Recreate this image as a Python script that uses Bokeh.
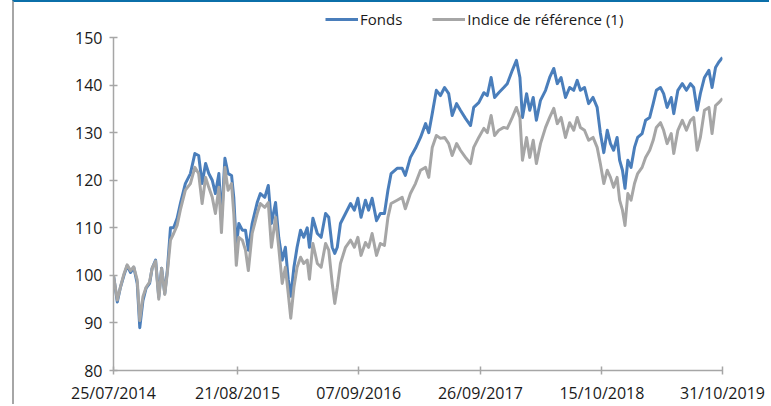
import pandas as pd
from bokeh.plotting import figure
from bokeh.models import FixedTicker, Legend, LegendItem, DatetimeTickFormatter, Range1d
from bokeh.embed import file_html
from bokeh.resources import INLINE

start_date = "2014-07-25"
end_date = "2019-10-31"

# days elapsed since 25/07/2014
days = [0, 12, 22, 33, 43, 54, 64, 75, 83, 93, 103, 114, 122, 133, 143, 152, 162, 170, 180, 190,
        201, 212, 227, 243, 257, 269, 280, 291, 301, 312, 322, 333, 341, 352, 362, 373, 380, 388,
        396, 407, 417, 426, 438, 454, 464, 478, 489, 499, 512, 522, 533, 543, 552, 560, 570, 580,
        591, 601, 612, 619, 630,
        644, 656, 670, 680, 691, 699, 707, 717, 733, 749, 761, 772, 782, 796, 806, 817, 831, 843,
        856, 867, 877, 896, 912, 922, 938, 954, 970, 986, 996, 1007, 1020, 1033, 1046, 1059, 1070,
        1084, 1096, 1112, 1128, 1138, 1154, 1170, 1181, 1193, 1204, 1217, 1233,
        1244, 1260, 1273, 1284, 1292, 1305, 1315, 1326, 1336, 1349, 1365, 1378, 1391, 1402, 1414,
        1428, 1441, 1454, 1465, 1475, 1488, 1501, 1515, 1528, 1538, 1549, 1560, 1570, 1580, 1591,
        1599, 1608, 1616, 1625, 1635, 1646, 1656, 1670, 1681, 1694, 1705, 1715, 1728, 1738, 1749,
        1762, 1770, 1783, 1797, 1810, 1823, 1833, 1844, 1854, 1867, 1881, 1891, 1902, 1912, 1924]

fonds = [100, 94.4, 97.5, 100, 102, 100.6, 101.7, 98.3, 89, 94.7, 97.3, 98.3, 101.5, 103.2, 95.5,
         101.5, 96.2, 101, 110, 110, 112, 115.3, 119.3, 121.4, 125.6, 125.2, 119.3, 123.5, 121.4,
         120, 117.2, 121.4, 111.5, 124.6, 121.4, 121, 116.4, 105.9, 110.9, 109.5, 109.5, 105.3,
         110.9, 115.3, 117.2, 116.4, 118.9, 110.9, 115.3, 108, 103.2, 105.9, 99.2, 95.6, 101.7,
         105.9, 109.5, 108, 110, 105.9, 112,
         108.8, 108, 113, 112.2, 105.9, 104.6, 105.9, 110.9, 113, 115.1, 113.7, 116.2, 112.2,
         115.8, 113.7, 116.2, 111.5, 113, 113, 117.9, 121.4, 122.5, 122.5, 121, 124.8, 126.7, 129,
         131.9, 130, 134, 138.9, 137.8, 139.5, 138.2, 133.6, 136.1, 134.7, 133, 131.5, 135.3,
         136.3, 138.4, 137.8, 141.6, 137.4, 138.4, 139.5,
         140.3, 143.1, 145.2, 141.6, 133.2, 138.2, 134.7, 137.4, 132.6, 136.8, 138.9, 141.6,
         143.5, 140.3, 141.6, 137.4, 139.5, 138.9, 141, 138.9, 139.5, 136.1, 137.4, 135.3, 130,
         125.8, 130.5, 127.7, 126.3, 129, 124.2, 122.1, 118.3, 124.2, 122.7, 126.9, 129, 129.8,
         132.6, 133.2, 136.1, 138.9, 139.5, 138.2, 135.3, 137.4, 134, 138.9, 140.3, 138.9, 140.3,
         139.5, 134.7, 138.2, 141.6, 143.1, 139.5, 143.7, 144.8, 145.8]

indice = [100, 94.8, 97.6, 100.3, 102.2, 101, 101.8, 99, 90.5, 95.5, 97.5, 98.6, 101.5, 103, 95,
          101.5, 96, 100.5, 107.4, 108.8, 110.5, 114, 117.9, 119.3, 122.7, 121.4, 115.1, 120.6,
          118.5, 116.4, 113, 118.5, 109, 122.7, 117.9, 119.3, 113, 102.1, 108, 107.4, 105.3, 101,
          108.8, 113, 115.1, 114.3, 115.3, 105.9, 112.2, 105.9, 98.3, 101.7, 96.2, 91, 97.5,
          101.7, 103.8, 102.5, 103.2, 99.2, 106.7,
          102.5, 101.7, 106.7, 105.3, 98.3, 94.1, 97.5, 102.5, 105.9, 107.4, 105.9, 108, 104.2,
          106.9, 105.9, 108.8, 104.2, 106.7, 106.3, 112.2, 115.1, 115.8, 116.4, 114, 117.2, 119.3,
          122.1, 122.7, 120.6, 126.9, 129.4, 128.8, 129, 127.7, 125.2, 127.7, 126.3, 124.8, 123.5,
          126.9, 129, 130.9, 130, 133.6, 129.4, 130.5, 131.1,
          130.9, 133.2, 135.3, 133.2, 124.2, 129, 124.8, 128.4, 123.5, 127.7, 131.1, 133.2, 135.1,
          131.9, 133.2, 129, 132.1, 130.5, 133.2, 131.1, 130.5, 128.4, 129, 126.9, 123.5, 119.3,
          122.1, 120.6, 118.5, 120.6, 115.8, 113.7, 110.5, 117.2, 115.8, 119.3, 121.4, 122.7,
          124.8, 126.3, 128.4, 131.1, 132.1, 130.5, 127.7, 129.8, 125.6, 130.5, 132.6, 130.5,
          132.6, 133.2, 126.3, 129, 134.7, 135.3, 129.8, 135.7, 136.3, 137.2]

tick_dates = ["2014-07-25", "2015-08-21", "2016-09-07", "2017-09-26", "2018-10-15", "2019-10-31"]
y_ticks = [80, 90, 100, 110, 120, 130, 140, 150]
series_names = ["Fonds", "Indice de référence (1)"]

FONT = "Open Sans"
dates = pd.Timestamp(start_date) + pd.to_timedelta(days, unit="D")

def ms(t):
    return pd.Timestamp(t).value / 1e6

p = figure(width=757, height=404, x_axis_type="datetime",
           output_backend="svg", toolbar_location=None,
           x_range=Range1d(ms(start_date), ms(end_date)), y_range=Range1d(80, 156.1),
           min_border_left=99, min_border_right=49, min_border_top=6, min_border_bottom=36)
p.styles = {"margin-left": "12px",
            "border-left": "2px solid #A6A6A6",
            "border-top": "2px solid #0B6FA9"}
p.outline_line_color = None
p.xgrid.grid_line_color = None
p.ygrid.grid_line_color = None

r1 = p.line(dates, fonds, line_color="#4A7EBB", line_width=3, line_join="round")
r2 = p.line(dates, indice, line_color="#A6A6A6", line_width=3, line_join="round")

p.xaxis.ticker = FixedTicker(ticks=[ms(d) for d in tick_dates])
p.xaxis.formatter = DatetimeTickFormatter(days="%d/%m/%Y", months="%d/%m/%Y", years="%d/%m/%Y",
                                          hours="%d/%m/%Y", milliseconds="%d/%m/%Y",
                                          seconds="%d/%m/%Y", minutes="%d/%m/%Y")
p.yaxis.ticker = FixedTicker(ticks=y_ticks)
p.yaxis.bounds = (80, 150)
p.xaxis.minor_tick_line_color = None
p.yaxis.minor_tick_line_color = None
for ax in (p.xaxis, p.yaxis):
    ax.axis_line_color = "#A6A6A6"
    ax.axis_line_width = 1.5
    ax.major_tick_line_color = "#A6A6A6"
    ax.major_tick_line_width = 1.5
    ax.major_tick_in = 4
    ax.major_tick_out = 4
    ax.major_label_text_font = FONT
    ax.major_label_text_font_size = "16px"
    ax.major_label_text_color = "#1a1a1a"
p.yaxis.major_label_standoff = 7
p.xaxis.major_label_standoff = 7

legend = Legend(items=[LegendItem(label=series_names[0], renderers=[r1]),
                       LegendItem(label=series_names[1], renderers=[r2])],
                orientation="horizontal", location=(212, 341))
legend.label_text_font = FONT
legend.label_text_font_size = "15px"
legend.label_text_color = "#1a1a1a"
legend.glyph_width = 33
legend.label_standoff = 2
legend.spacing = 30
legend.padding = 0
legend.margin = 0
legend.border_line_color = None
legend.background_fill_alpha = 0
p.add_layout(legend, "center")

open("out.html", "w").write(file_html(p, INLINE))
